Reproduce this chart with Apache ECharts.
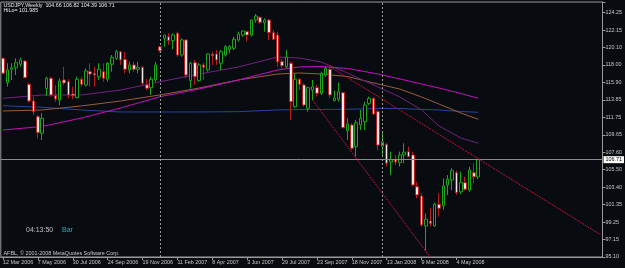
<!DOCTYPE html>
<html><head><meta charset="utf-8">
<script src="https://cdn.jsdelivr.net/npm/echarts@6/dist/echarts.min.js"></script>
<style>html,body{margin:0;padding:0;background:#080c10;}#c{width:625px;height:268px;}</style>
</head><body><div id="c"></div><script>
const symbol='USDJPY', period='Weekly';
const hiLoText='HiLo= 101.985';
const clockText='04:13:50', modeText='Bar';
const copyrightText='AFBL, \u00a9 2001-2008 MetaQuotes Software Corp.';

const open=[118.81,115.90,117.49,117.68,118.09,118.48,115.70,113.71,111.84,109.86,
115.20,116.42,114.35,113.83,116.22,116.02,114.55,114.11,116.30,115.62,
117.21,117.01,116.61,117.21,116.30,118.09,118.80,119.59,118.68,117.41,
118.01,117.49,117.73,115.62,115.30,116.22,120.19,121.19,121.38,120.91,
121.78,119.20,120.99,116.14,118.28,116.14,118.01,117.41,119.30,119.32,
118.21,119.20,119.88,120.00,120.99,121.58,121.98,121.58,123.37,123.70,
123.05,123.37,121.86,121.58,118.40,117.80,118.21,113.03,116.30,115.62,
112.84,115.02,115.30,114.63,116.81,117.49,113.75,113.91,114.70,110.17,
110.85,108.26,110.85,111.25,113.43,114.03,112.44,108.34,108.55,106.43,
106.75,106.35,107.27,107.67,107.27,103.49,102.38,98.80,99.40,98.80,
101.39,101.22,103.69,104.29,105.16,102.89,103.97,103.09,105.16,104.66];
const close=[117.02,117.41,117.68,118.28,118.60,116.49,113.71,112.44,109.93,111.65,
116.42,114.43,113.95,116.10,115.86,114.43,114.35,116.30,115.70,117.29,
116.93,116.81,117.49,116.42,118.21,118.92,119.59,118.60,117.49,118.01,
117.49,117.73,115.82,115.23,116.30,118.01,119.71,121.58,120.91,121.58,
119.20,120.99,116.81,118.21,116.61,118.01,117.73,119.32,119.10,118.60,
119.59,120.19,120.19,121.07,121.70,122.06,121.58,123.37,123.85,123.10,
123.37,121.86,121.07,118.40,117.92,118.95,113.63,116.30,115.70,113.23,
115.30,115.42,114.63,117.01,117.61,114.43,114.07,114.82,110.53,110.97,
108.07,111.12,111.65,113.23,114.03,112.16,108.46,108.85,106.28,106.67,
106.43,107.27,107.60,107.07,103.69,102.50,98.92,99.60,99.10,101.39,
100.91,103.57,104.37,105.40,102.77,103.97,103.18,105.48,104.66,106.71];
const high=[118.90,118.21,118.21,118.80,118.88,118.60,115.90,114.22,112.04,112.24,
116.61,116.61,115.62,116.42,117.80,116.30,115.42,116.61,116.61,117.61,
118.21,117.80,118.21,118.21,118.36,119.20,119.80,119.70,119.59,118.40,
118.40,118.40,117.89,116.30,116.61,118.40,120.30,121.58,121.78,121.78,
121.98,121.19,121.07,118.40,118.60,118.21,118.28,119.40,119.59,119.80,
119.80,120.39,120.39,121.38,121.98,122.18,122.10,123.46,124.09,123.77,
123.57,123.50,122.18,121.98,118.70,119.80,118.40,117.01,116.42,115.82,
115.42,116.22,115.62,117.21,117.80,117.80,114.94,115.90,114.82,111.65,
111.05,111.45,112.64,113.63,114.23,114.15,112.64,110.05,108.66,107.67,
107.27,107.67,108.66,108.26,107.67,104.08,102.70,100.31,100.91,101.58,
102.70,104.49,104.88,105.68,105.40,105.28,104.69,105.87,106.28,106.82];
const low=[116.90,115.42,116.22,116.81,117.80,116.41,113.55,112.04,109.26,109.06,
114.31,114.22,113.63,113.23,115.60,114.03,113.91,114.03,115.42,115.42,
115.42,115.42,116.22,116.02,116.02,117.21,118.60,118.01,117.01,117.01,
117.20,117.01,115.62,115.00,114.43,116.02,119.50,120.19,120.39,119.88,
119.00,119.00,116.42,115.20,115.62,116.02,116.22,117.21,118.01,118.01,
117.41,119.00,119.40,119.80,120.79,121.38,120.79,121.38,123.05,122.90,
121.98,120.99,120.99,117.80,117.60,117.60,111.45,112.90,115.02,113.03,
112.44,113.83,114.23,114.43,116.61,114.03,113.67,113.63,110.46,109.06,
107.87,107.07,110.25,110.25,113.23,112.04,107.87,107.07,105.88,104.88,
106.08,105.88,106.28,106.99,103.49,102.10,98.72,95.85,98.72,98.72,
99.91,100.71,102.50,103.09,102.50,102.60,103.01,102.89,103.89,104.39];

const xTickLabels=['12 Mar 2006','7 May 2006','30 Jul 2006','24 Sep 2006','19 Nov 2006','11 Feb 2007','8 Apr 2007','3 Jun 2007','29 Jul 2007','23 Sep 2007','18 Nov 2007','13 Jan 2008','9 Mar 2008','4 May 2008'];
const xTickEvery=8;
const slotCount=138;
const yTickLabels=['95.10','97.15','99.25','101.35','103.40','105.50','107.60','109.65','111.75','113.85','115.90','118.00','120.10','122.15','124.25'];
const yMin=95.10, yTop=124.25, yMax=125.52;

const maMagenta=[[0,110.25],[9,110.67],[18,111.68],[27,112.88],[36,114.22],[45,115.14],[54,116.22],[63,117.41],[68,117.77],[73,117.83],[79,117.59],[86,116.93],[91,116.34],[96,115.74],[100,115.26],[105,114.61],[109,114.03]];
const maPurple=[[0,114.03],[9,114.43],[18,114.43],[27,115.02],[36,116.01],[45,116.93],[54,117.77],[63,118.96],[68,118.84],[73,118.36],[79,117.05],[86,115.38],[91,114.19],[96,112.64],[100,110.73],[105,109.30],[109,108.67]];
const maBrown=[[0,112.52],[9,112.64],[18,113.12],[27,113.71],[36,114.43],[45,115.26],[54,116.22],[63,116.93],[68,117.05],[73,116.93],[79,116.63],[86,115.74],[91,115.14],[96,114.19],[100,113.35],[105,112.28],[109,111.53]];
const maBlue=[[0,113.15],[9,112.96],[18,112.64],[27,112.40],[36,112.40],[45,112.40],[54,112.44],[63,112.64],[68,112.70],[73,112.70],[79,112.72],[86,112.82],[91,112.82],[96,112.70],[100,112.64],[105,112.46],[109,112.36]];

const upperTrend=[[75,117.80],[109,106.82]];
const lowerTrend=[[71,113.83],[97,95.77]];
const separators=[36,87];
const bid=106.71;

function ray(a,b,toIdx){const s=(b[1]-a[1])/(b[0]-a[0]);return [a,[toIdx,a[1]+s*(toIdx-a[0])]];}

const cats=[];for(let i=0;i<slotCount;i++)cats.push(String(i));
const candles=open.map((o,i)=>[o,close[i],low[i],high[i]]);
const yInterval=(yTop-yMin)/(yTickLabels.length-1);
const FONT='Liberation Sans';
const n=open.length-1;
const header=`${symbol},${period}  ${open[n].toFixed(2)} ${high[n].toFixed(2)} ${low[n].toFixed(2)} ${close[n].toFixed(2)}`;

const chart=echarts.init(document.getElementById('c'),null,{renderer:'canvas'});
function maSeries(data,color){return {type:'line',data:data,symbol:'none',smooth:false,z:3,lineStyle:{color:color,width:1},silent:true,animation:false};}
function txt(x,y,text,size,color){return {type:'text',x:x,y:y,style:{text:text,fill:color,fontSize:size,fontFamily:FONT,textVerticalAlign:'top'}};}
chart.setOption({
  backgroundColor:'#080c10',
  animation:false,
  grid:{left:0,right:20,top:2,bottom:11,show:true,borderColor:'#9a9a9a',borderWidth:1,backgroundColor:'transparent'},
  xAxis:{type:'category',data:cats,boundaryGap:true,
    axisLine:{show:true,lineStyle:{color:'#9a9a9a'}},
    axisTick:{show:true,alignWithLabel:true,length:3,lineStyle:{color:'#9a9a9a'},interval:(i)=>i%xTickEvery===0&&i/xTickEvery<xTickLabels.length},
    axisLabel:{show:true,interval:(i)=>i%xTickEvery===0&&i/xTickEvery<xTickLabels.length,formatter:(v,i)=>xTickLabels[i/xTickEvery]||'',align:'left',margin:3,fontSize:5.4,fontFamily:FONT,color:'#c8c8c8'},
    splitLine:{show:false}},
  yAxis:{type:'value',position:'right',min:yMin,max:yMax,interval:yInterval,scale:true,
    axisLine:{show:true,lineStyle:{color:'#9a9a9a'}},
    axisTick:{show:true,length:3,lineStyle:{color:'#9a9a9a'}},
    axisLabel:{show:true,margin:3,fontSize:5.4,fontFamily:FONT,color:'#c8c8c8',
      formatter:(v)=>{const k=(v-yMin)/yInterval;const r=Math.round(k);return (Math.abs(k-r)<0.02&&r>=0&&r<yTickLabels.length)?yTickLabels[r]:'';}},
    splitLine:{show:false}},
  series:[
    {type:'candlestick',data:candles,barWidth:3,z:4,
     itemStyle:{color:'#000000',color0:'#f6e6e6',borderColor:'#18a818',borderColor0:'#b81c1c',borderWidth:1},
     markLine:{symbol:'none',silent:true,animation:false,data:[
       {yAxis:bid,lineStyle:{color:'#8a8a8a',type:'solid',width:1},
        label:{show:true,position:'end',formatter:bid.toFixed(2),backgroundColor:'#ffffff',color:'#000000',fontSize:5.4,fontFamily:FONT,padding:[1,2,1,2],distance:1}},
       ...separators.map(s=>({xAxis:s,lineStyle:{color:'#9c9a94',type:[2,2],width:1},label:{show:false}}))
     ]}},
    maSeries(maBlue,'#2444a4'),
    maSeries(maBrown,'#9c5a3c'),
    maSeries(maPurple,'#742086'),
    maSeries(maMagenta,'#c410c4'),
    {type:'line',data:ray(upperTrend[0],upperTrend[1],slotCount-1),symbol:'none',z:5,lineStyle:{color:'#d01038',width:1,type:[2,1]},silent:true},
    {type:'line',data:ray(lowerTrend[0],lowerTrend[1],100),symbol:'none',z:5,lineStyle:{color:'#c81040',width:1,type:[2,1]},silent:true}
  ],
  graphic:[
    txt(3.5,3,header,5.3,'#e8e8e8'),
    txt(3.5,8.5,hiLoText,5.3,'#e8e8e8'),
    txt(26,226.5,clockText,7,'#c0c0c0'),
    txt(62,226.5,modeText,7,'#10b4c8'),
    txt(3.5,251,copyrightText,5.4,'#c8c8c8')
  ]
});
</script></body></html>
